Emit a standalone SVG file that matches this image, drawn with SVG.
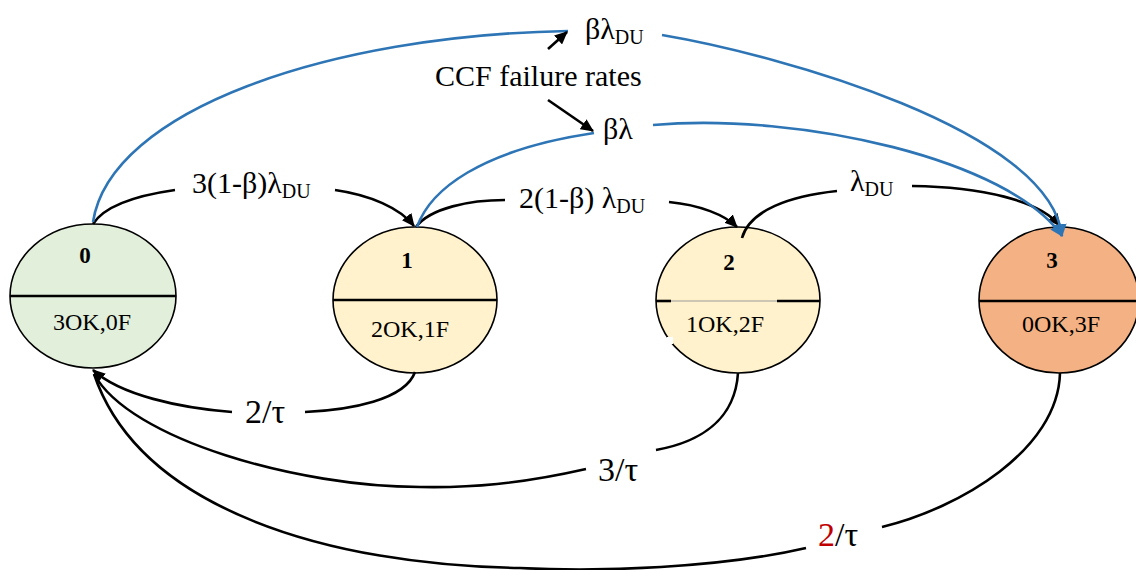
<svg xmlns="http://www.w3.org/2000/svg" width="1136" height="570" viewBox="0 0 1136 570">
  <style>
    .state { stroke: #000; stroke-width: 1.6; }
    .divider { stroke: #000; stroke-width: 2.6; }
    text { font-family: "Liberation Serif", "DejaVu Serif", serif; fill: #000; }
    .num { font-weight: bold; font-size: 23px; text-anchor: middle; }
    .cnt { font-size: 24px; text-anchor: middle; }
    .lbl { font-size: 30px; }
    .sub { font-size: 20px; }
    .big { font-size: 34px; }
    .gr { font-family: "Liberation Serif", "DejaVu Serif", serif; }
    .edge { fill: none; stroke: #000; stroke-width: 2.6; }
    .ccf { fill: none; stroke: #2E75B6; stroke-width: 2.6; }
  </style>
  <defs>
    <marker id="arrowBlack" markerUnits="userSpaceOnUse" markerWidth="14" markerHeight="12" refX="12" refY="6" orient="auto">
      <path d="M0,0 L13,6 L0,12 Z" fill="#000"/>
    </marker>
    <marker id="arrowBlue" markerUnits="userSpaceOnUse" markerWidth="14" markerHeight="12" refX="12" refY="6" orient="auto">
      <path d="M0,0 L13,6 L0,12 Z" fill="#2E75B6"/>
    </marker>
  </defs>

  <!-- states -->
  <g id="state0">
    <ellipse class="state" cx="93" cy="296" rx="83" ry="72" fill="#E2EFDA"/>
    <line class="divider" x1="10" y1="296" x2="176" y2="296"/>
    <text class="num" x="85" y="263">0</text>
    <text class="cnt" x="92" y="330">3OK,0F</text>
  </g>
  <g id="state1">
    <ellipse class="state" cx="415" cy="300" rx="82" ry="73" fill="#FFF2CC"/>
    <line class="divider" x1="333" y1="300" x2="497" y2="300"/>
    <text class="num" x="407" y="268">1</text>
    <text class="cnt" x="410" y="337">2OK,1F</text>
  </g>
  <g id="state2">
    <ellipse class="state" cx="738" cy="300" rx="82" ry="73" fill="#FFF2CC"/>
    <line class="divider" x1="656" y1="301" x2="671" y2="301"/>
    <line x1="671" y1="301" x2="777" y2="301" stroke="#9a9a9a" stroke-width="1"/>
    <line class="divider" x1="777" y1="301" x2="820" y2="301"/>
    <rect x="667" y="337" width="6" height="7" fill="#fff"/>
    <text class="num" x="729" y="270">2</text>
    <text class="cnt" x="725" y="332">1OK,2F</text>
  </g>
  <g id="state3">
    <ellipse class="state" cx="1059" cy="300" rx="80" ry="73" fill="#F4B183"/>
    <line class="divider" x1="979" y1="301" x2="1136" y2="301"/>
    <text class="num" x="1052" y="268">3</text>
    <text class="cnt" x="1061" y="332">0OK,3F</text>
  </g>

  <!-- transitions -->
  <g id="connectors">
    <!-- independent failures -->
    <path class="edge" d="M93,224 C105,205 140,195 175,190"/>
    <path class="edge" d="M335,190 C370,195 400,208 414,226" marker-end="url(#arrowBlack)"/>
    <path class="edge" d="M416,227 C430,208 470,200 505,200"/>
    <path class="edge" d="M669,202 C700,205 725,215 737,227" marker-end="url(#arrowBlack)"/>
    <path class="edge" d="M742,238 C750,210 790,196 837,191"/>
    <path class="edge" d="M912,186 C980,187 1040,200 1060,226" marker-end="url(#arrowBlack)"/>

    <!-- common cause failures -->
    <path class="ccf" d="M93,222 C110,110 330,35 568,31"/>
    <path class="ccf" d="M662,35 C780,55 1050,130 1062,236" marker-end="url(#arrowBlue)"/>
    <path class="ccf" d="M417,227 C430,190 480,150 594,133"/>
    <path class="ccf" d="M653,125 C800,112 1010,160 1062,236" marker-end="url(#arrowBlue)"/>

    <!-- pointers from the CCF caption -->
    <path class="edge" d="M548,49 L567,32" marker-end="url(#arrowBlack)"/>
    <path class="edge" d="M548,100 L593,131" marker-end="url(#arrowBlack)"/>

    <!-- proof test repairs -->
    <path class="edge" d="M415,372 C405,400 350,410 305,412"/>
    <path class="edge" d="M232,412 C180,408 120,395 93,370" marker-end="url(#arrowBlack)"/>
    <path class="edge" d="M738,373 C735,420 700,442 656,450"/>
    <path class="edge" d="M586,469 C520,484 470,488 420,487 C300,487 130,440 94,374"/>
    <path class="edge" d="M1060,373 C1058,450 960,508 882,527"/>
    <path class="edge" d="M806,548 C720,568 600,572 520,568 C330,565 140,510 94,374"/>
  </g>

  <!-- labels -->
  <g id="labels">
    <text class="lbl" x="192" y="193"><tspan>3(1-</tspan><tspan class="gr">β</tspan><tspan>)</tspan><tspan class="gr">λ</tspan><tspan class="sub" dy="5">DU</tspan></text>
    <text class="lbl" x="519" y="208"><tspan>2(1-</tspan><tspan class="gr">β</tspan><tspan>) </tspan><tspan class="gr">λ</tspan><tspan class="sub" dy="5">DU</tspan></text>
    <text class="lbl" x="850" y="191"><tspan class="gr">λ</tspan><tspan class="sub" dy="5">DU</tspan></text>
    <text class="lbl" x="585" y="39"><tspan class="gr">βλ</tspan><tspan class="sub" dy="5">DU</tspan></text>
    <text class="lbl" x="603" y="139">βλ</text>
    <text class="lbl" x="435" y="86" font-size="31">CCF failure rates</text>
    <text class="big" x="245" y="423"><tspan>2/</tspan><tspan class="gr">τ</tspan></text>
    <text class="big" x="598" y="481"><tspan>3/</tspan><tspan class="gr">τ</tspan></text>
    <text class="big" x="818" y="546"><tspan fill="#C00000">2</tspan><tspan>/</tspan><tspan class="gr">τ</tspan></text>
  </g>
</svg>
